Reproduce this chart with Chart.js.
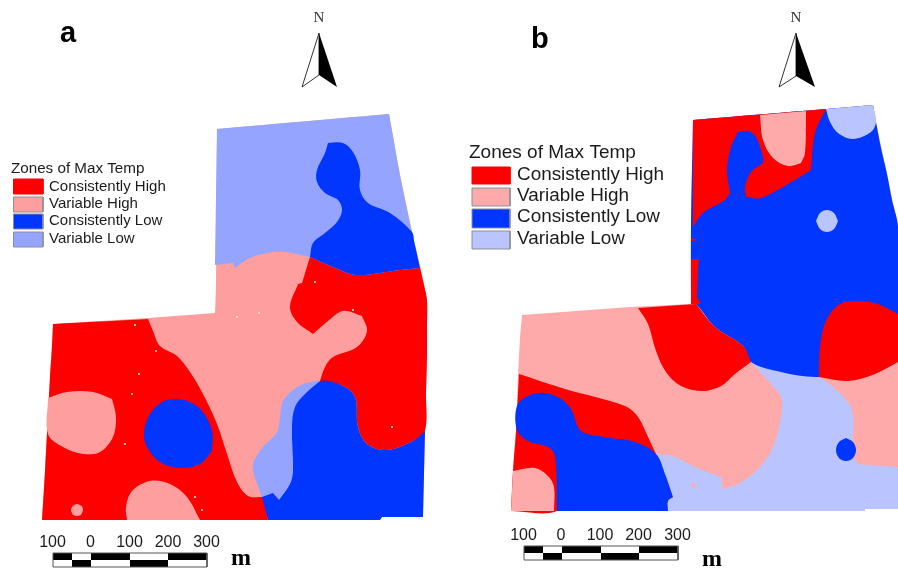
<!DOCTYPE html>
<html>
<head>
<meta charset="utf-8">
<script src="https://cdn.jsdelivr.net/npm/chart.js@4/dist/chart.umd.js"></script>
<style>
  html, body { margin: 0; padding: 0; background: #fff; }
  #wrap { width: 898px; height: 568px; }
  #map { filter: blur(0.4px); }
</style>
</head>
<body>
<div id="wrap"><canvas id="map" width="898" height="568"></canvas></div>
<script>
// zone outlines, [x, y] on the map grid
const outlineA = [[217,129],[389,114],[399,170],[412,232],[421,270],[427,300],[427,354],[425,431],[423,517],[382,517],[380,520],[42,520],[45,471],[50,377],[52,346],[53,324],[148,318],[215,313],[216,284]];
const lowTopA = [[217,129],[389,114],[394,142],[399,170],[405,200],[412,232],[416,250],[420,268],[310,257],[292,253],[273,252],[250,258],[235,268],[233,263],[215,265]];
const blueTopA = [[328,143],[343,143],[353,152],[360,170],[360,190],[368,203],[390,213],[412,232],[414,241],[416,250],[418,259],[420,268],[400,270],[357,275],[333,267],[310,257],[313,243],[325,233],[337,222],[342,210],[338,200],[325,193],[317,182],[317,170],[325,153]];
const redRightA = [[310,257],[333,267],[357,275],[400,270],[420,268],[424,285],[427,300],[427,327],[427,354],[426,392],[425,431],[413,441],[387,450],[367,444],[358,427],[355,397],[343,386],[320,381],[325,367],[333,357],[357,347],[367,331],[362,316],[343,311],[328,321],[313,334],[297,322],[290,307],[298,284],[302,283]];
const blueLowA = [[320,381],[343,386],[355,397],[358,427],[367,444],[387,450],[413,441],[425,431],[424,474],[423,517],[382,517],[380,520],[268,520],[262,497],[273,480],[290,400]];
const paleLowA = [[315,381],[297,387],[283,401],[280,417],[277,432],[263,447],[254,461],[253,471],[262,497],[273,493],[279,500],[290,484],[293,471],[292,427],[295,407],[305,394],[320,381]];
const redLeftA = [[53,324],[148,319],[153,331],[160,346],[177,356],[190,372],[203,394],[217,424],[227,454],[237,482],[248,496],[262,497],[268,520],[42,520],[45,471],[50,377],[52,346]];
const blobLeftA = [[48,398],[67,392],[93,392],[112,399],[116,417],[113,437],[100,452],[83,454],[63,447],[48,434]];
const circleA = [[175,399],[190,402],[203,412],[212,431],[212,451],[200,464],[180,468],[160,462],[147,447],[144,432],[150,414],[162,402]];
const blobBottomA = [[127,520],[126,507],[132,491],[150,481],[170,484],[187,497],[200,520]];
const dotA = [[77,504],[82,506],[83,510],[81,515],[77,516],[73,515],[71,510],[73,506]];
const specksA = [[135,325],[156,351],[139,374],[132,394],[125,444],[237,317],[259,313],[353,310],[392,427],[195,497],[202,510],[315,282]];

const outlineB = [[693,120],[826,109],[873,105],[876,122],[898,227],[898,509],[865,509],[865,511],[511,511],[513,471],[516,431],[518,374],[520,337],[522,315],[630,307],[691,304],[691,227]];
const blueTopB = [[693,120],[826,109],[873,105],[876,122],[881,148],[887,174],[892,200],[898,227],[898,340],[848,370],[818,377],[781,372],[751,362],[743,346],[715,327],[696,304],[691,304],[691,227]];
const paleLowB = [[751,362],[781,372],[818,377],[848,402],[853,417],[853,454],[858,464],[898,467],[898,509],[865,509],[865,511],[668,511],[668,501],[673,497],[668,481],[656,454],[675,457],[695,467],[721,477],[723,489],[738,484],[758,469],[773,447],[781,417],[781,397],[771,384]];
const redRightB = [[898,314],[878,304],[860,301],[840,304],[826,321],[820,347],[819,377],[848,381],[875,374],[898,362]];
const redTopB = [[693,120],[826,109],[815,133],[811,170],[795,180],[761,198],[748,197],[730,193],[725,200],[703,213],[693,227]];
const lobeB = [[730,193],[727,170],[731,147],[738,132],[748,131],[756,137],[763,157],[763,163],[751,172],[745,187],[746,197]];
const pinkTopB = [[760,115],[806,111],[805,153],[801,163],[788,166],[773,158],[763,140]];
const paleTopB = [[826,109],[873,105],[876,122],[871,132],[853,139],[838,133],[830,122]];
const circleB = [[827,210],[834,213],[838,221],[834,229],[827,232],[820,229],[816,221],[820,213]];
const sliverB = [[691,259],[699,259],[698,267],[697,297],[701,304],[691,304]];
const nickB = [[691,238],[698,240],[691,241]];
const redMidB = [[638,308],[696,304],[715,327],[743,346],[751,362],[735,374],[721,386],[703,391],[681,386],[666,372],[656,351],[648,324]];
const redLeftB = [[519,374],[565,389],[625,406],[638,417],[648,437],[656,454],[620,470],[557,511],[511,511],[513,471],[516,431]];
const blueLowB = [[517,406],[528,396],[545,393],[561,399],[571,409],[581,431],[605,437],[635,442],[656,454],[665,474],[673,497],[668,501],[668,511],[557,511],[555,456],[548,447],[528,441],[517,430]];
const pinkLowB = [[513,471],[535,468],[548,476],[554,487],[554,511],[511,511]];
const dotB = [[846,438],[853,442],[856,450],[853,458],[846,461],[839,458],[836,450],[839,442]];
const speckB = [[693,482],[696,486],[693,488],[691,485]];

const arrowLeftA = [[319,33],[302,87],[319,75]];
const arrowRightA = [[319,33],[337,87],[319,75]];
const arrowLeftB = [[796,33],[779,87],[796,76]];
const arrowRightB = [[796,33],[815,87],[796,76]];

const scaleCutsA = [53, 72, 91, 130, 168, 207];
const scaleCutsB = [524, 543, 562, 601, 639, 678];
const scaleTicks = ["100", "0", "100", "200", "300"];
const zoneNames = ["Consistently High", "Variable High", "Consistently Low", "Variable Low"];

const RED = "#ff0000";
const BLUE = "#0036ff";
const PINK_A = "#ff9e9e";
const PALE_A = "#95a5ff";
const PINK_B = "#ffaaaa";
const PALE_B = "#bac4ff";

function ring(points, color, opts) {
  const closed = points.concat([points[0]]);
  return Object.assign({
    data: closed.map((p) => ({ x: p[0], y: p[1] })),
    showLine: true,
    fill: "shape",
    backgroundColor: color,
    borderColor: color,
    borderWidth: 0,
    pointRadius: 0,
    tension: 0,
  }, opts);
}

function turnAt(points, i) {
  const n = points.length;
  const a = points[(i + n - 1) % n], b = points[i], c = points[(i + 1) % n];
  let turn = Math.abs(Math.atan2(c[1] - b[1], c[0] - b[0]) - Math.atan2(b[1] - a[1], b[0] - a[0]));
  if (turn > Math.PI) turn = 2 * Math.PI - turn;
  return turn;
}

// curved zone edge: a vertex listed twice keeps a sharp corner under the spline
function zone(points, color) {
  let start = 0;
  points.forEach((p, i) => { if (turnAt(points, i) > turnAt(points, start)) start = i; });
  const out = [];
  for (let k = 0; k < points.length; k++) {
    const i = (start + k) % points.length;
    out.push(points[i]);
    if (k > 0 && turnAt(points, i) > 0.9) out.push(points[i]);
  }
  return ring(out, color, { tension: 0.35 });
}

function box(x0, x1, y0, y1, color) {
  return ring([[x0, y0], [x1, y0], [x1, y1], [x0, y1]], color);
}

function legendBoxes(x0, x1, rows, colors) {
  return rows.map((r, i) => ring([[x0, r[0]], [x1, r[0]], [x1, r[1]], [x0, r[1]]], colors[i], { borderWidth: 1, borderColor: i === 0 ? colors[i] : "#8d8d9a" }));
}

function scaleBar(cuts, top, mid, bottom) {
  const cells = [];
  for (let i = 0; i < cuts.length - 1; i++) {
    const topBlack = i % 2 === 0;
    cells.push(box(cuts[i], cuts[i + 1], top, mid, topBlack ? "#000" : "#fff"));
    cells.push(box(cuts[i], cuts[i + 1], mid, bottom, topBlack ? "#fff" : "#000"));
  }
  cells.push(ring([[cuts[0], top], [cuts[5], top], [cuts[5], bottom], [cuts[0], bottom]], "#555", { fill: false, borderWidth: 1 }));
  return cells;
}

// listed bottom layer first, chart.js paints the first dataset last so this gets reversed
const layers = [
  ring(outlineA, PINK_A),
  zone(lowTopA, PALE_A),
  zone(redRightA, RED),
  zone(blueTopA, BLUE),
  zone(blueLowA, BLUE),
  zone(paleLowA, PALE_A),
  zone(redLeftA, RED),
  zone(blobLeftA, PINK_A),
  zone(circleA, BLUE),
  zone(blobBottomA, PINK_A),
  zone(dotA, PINK_A),
  {
    data: specksA.map((p) => ({ x: p[0], y: p[1] })),
    pointRadius: 1,
    pointBackgroundColor: "#ffe8e8",
    pointBorderWidth: 0,
    showLine: false,
  },

  ring(outlineB, PINK_B),
  zone(paleLowB, PALE_B),
  zone(blueTopB, BLUE),
  zone(redRightB, RED),
  zone(redTopB, RED),
  zone(lobeB, BLUE),
  zone(pinkTopB, PINK_B),
  zone(paleTopB, PALE_B),
  zone(circleB, PALE_B),
  ring(sliverB, RED),
  ring(nickB, RED),
  zone(redMidB, RED),
  zone(redLeftB, RED),
  zone(blueLowB, BLUE),
  zone(pinkLowB, PINK_B),
  zone(dotB, BLUE),
  zone(speckB, PINK_B),

  ...legendBoxes(13.5, 43, [[179, 194], [197, 212], [214, 229], [232, 247]], [RED, PINK_A, BLUE, PALE_A]),
  ...legendBoxes(472, 510, [[167, 184], [188, 206], [209, 228], [231, 249]], [RED, PINK_B, BLUE, PALE_B]),

  ring(arrowLeftA, "#fff", { borderWidth: 1, borderColor: "#333" }),
  ring(arrowRightA, "#000"),
  ring(arrowLeftB, "#fff", { borderWidth: 1, borderColor: "#333" }),
  ring(arrowRightB, "#000"),

  ...scaleBar(scaleCutsA, 553, 560, 567),
  ...scaleBar(scaleCutsB, 546, 553, 560),
];

const labelPlugin = {
  id: "labels",
  afterDatasetsDraw(chart) {
    const { ctx, scales } = chart;
    const put = (text, x, y, font, align, color) => {
      ctx.font = font;
      ctx.textAlign = align || "left";
      ctx.textBaseline = "alphabetic";
      ctx.fillStyle = color || "#1c1c1c";
      ctx.fillText(text, scales.x.getPixelForValue(x), scales.y.getPixelForValue(y));
    };
    const sans = "Liberation Sans";
    const serif = "Liberation Serif";
    ctx.save();
    put("a", 60, 42, `bold 29px "${sans}"`, "left", "#000");
    put("b", 531, 48, `bold 29px "${sans}"`, "left", "#000");
    put("N", 319, 22, `15px "${serif}"`, "center", "#333");
    put("N", 796, 22, `15px "${serif}"`, "center", "#333");
    put("m", 231, 565, `bold 24px "${serif}"`, "left", "#000");
    put("m", 702, 566, `bold 24px "${serif}"`, "left", "#000");

    put("Zones of Max Temp", 11, 173, `15.2px "${sans}"`);
    zoneNames.forEach((name, i) => put(name, 49, [191, 208, 225, 243][i], `15px "${sans}"`));
    put("Zones of Max Temp", 469, 158, `19px "${sans}"`);
    zoneNames.forEach((name, i) => put(name, 517, [180, 201, 222, 244][i], `18.9px "${sans}"`));

    scaleTicks.forEach((t, i) => put(t, [52.5, 90.5, 129.5, 168, 206.5][i], 547, `16px "${sans}"`, "center"));
    scaleTicks.forEach((t, i) => put(t, [523.5, 561, 600, 638.5, 677.5][i], 540, `16px "${sans}"`, "center"));
    ctx.restore();
  },
};

new Chart(document.getElementById("map").getContext("2d"), {
  type: "scatter",
  data: { datasets: layers.slice().reverse() },
  plugins: [labelPlugin],
  options: {
    responsive: false,
    animation: false,
    layout: { autoPadding: false, padding: 0 },
    scales: {
      x: { type: "linear", display: false, min: 0, max: 898 },
      y: { type: "linear", display: false, min: 0, max: 568, reverse: true },
    },
    plugins: {
      legend: { display: false },
      tooltip: { enabled: false },
    },
  },
});
</script>
</body>
</html>
